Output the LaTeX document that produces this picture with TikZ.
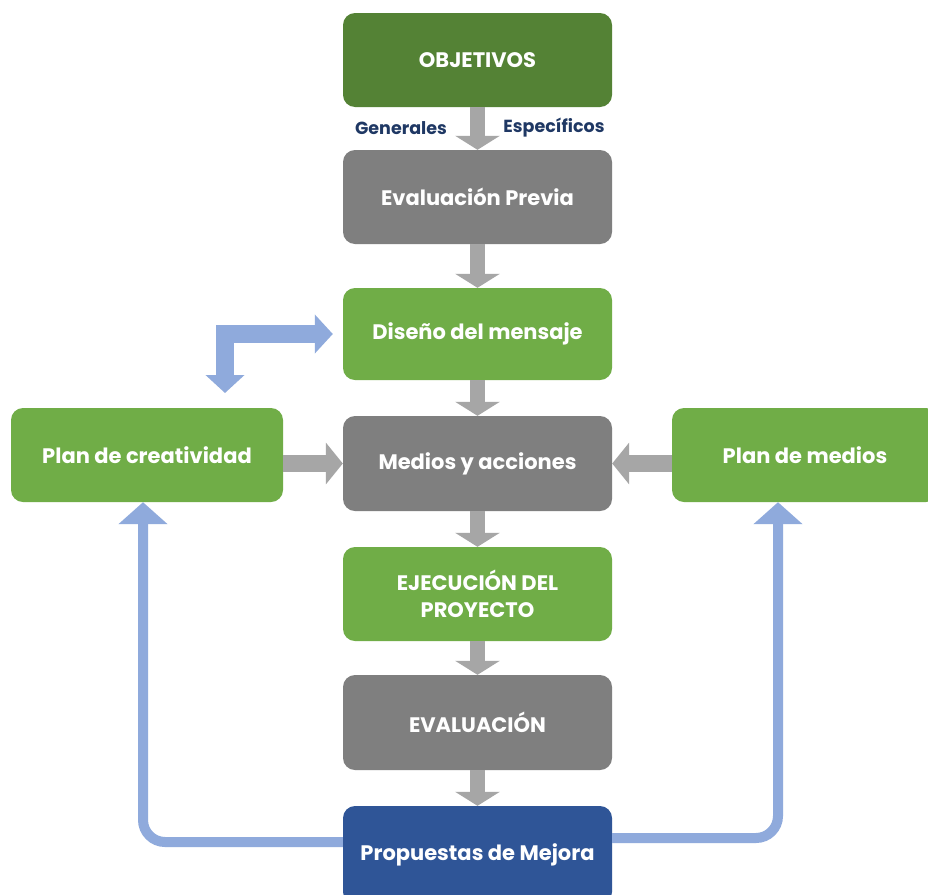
\documentclass[tikz,border=0pt]{standalone}
\usepackage{fontspec}
\setmainfont{Poppins}
\usetikzlibrary{arrows.meta}
\definecolor{dgreen}{HTML}{548235}
\definecolor{lgreen}{HTML}{70AD47}
\definecolor{boxgray}{HTML}{7F7F7F}
\definecolor{arrgray}{HTML}{A6A6A6}
\definecolor{boxblue}{HTML}{2F5597}
\definecolor{lblue}{HTML}{8FAADC}
\definecolor{navy}{HTML}{1F3864}
\begin{document}
\begin{tikzpicture}[x=1pt,y=-1pt,
  box/.style={rounded corners=12pt, inner sep=0pt, align=center, text=white,
    font=\bfseries\fontsize{21}{27}\selectfont},
  lbl/.style={inner sep=0pt, text=navy, font=\bfseries\fontsize{17.5}{19}\selectfont},
  garrow/.style={line width=15pt, draw=arrgray, -{Triangle[width=44pt,length=14pt]}},
  garrowh/.style={line width=17pt, draw=arrgray, -{Triangle[width=41pt,length=17pt]}},
  bbent/.style={line width=18pt, draw=lblue, {Triangle[width=38pt,length=18pt]}-{Triangle[width=38pt,length=18pt]}},
  bloop/.style={line width=10pt, draw=lblue, rounded corners=22pt, -{Triangle[width=48pt,length=22pt]}}
]
\useasboundingbox (0,0) rectangle (928,894);
\clip (0,0) rectangle (928,894);
\fill[white] (0,0) rectangle (928,894);

\node[box, fill=dgreen, minimum width=269pt, minimum height=94pt] (obj) at (477.5,60) {OBJETIVOS};
\node[box, fill=boxgray, minimum width=269pt, minimum height=94pt] (prev) at (477.5,197) {Evaluación Previa};
\node[box, fill=lgreen, minimum width=269pt, minimum height=92pt] (dis) at (477.5,334) {Diseño del mensaje};
\node[box, fill=boxgray, minimum width=269pt, minimum height=95pt] (med) at (477.5,463.5) {Medios y acciones};
\node[box, fill=lgreen, minimum width=269pt, minimum height=94pt] (eje) at (477.5,594) {EJECUCIÓN DEL\\PROYECTO};
\node[box, fill=boxgray, minimum width=269pt, minimum height=95pt] (eva) at (477.5,722.5) {EVALUACIÓN};
\node[box, fill=boxblue, minimum width=269pt, minimum height=98pt] (prop) at (477.5,855) {Propuestas de Mejora};
\node[box, fill=lgreen, minimum width=272pt, minimum height=94pt] (creat) at (147,455) {Plan de creatividad};
\node[box, fill=lgreen, minimum width=266pt, minimum height=94pt] (medios) at (805,455) {Plan de medios};

\node[lbl] (gen) at (401,128) {Generales};
\node[lbl] (esp) at (554,128) {Específicos};

\draw[garrow] (obj.south) -- (prev.north);
\draw[garrow] (prev.south) -- (dis.north);
\draw[garrow] (dis.south) -- (med.north);
\draw[garrow] (med.south) -- (eje.north);
\draw[garrow] (eje.south) -- (eva.north);
\draw[garrow] (eva.south) -- (prop.north);
\draw[garrowh] (creat.east |- med.west) -- (med.west);
\draw[garrowh] (medios.west |- med.east) -- (med.east);

\coordinate (bt) at (225,393);
\draw[bbent] (bt) |- ([xshift=-10pt]dis.west);

\draw[bloop] ([yshift=13pt]prop.west) -| ([xshift=-4pt]creat.south);
\draw[bloop] ([yshift=17pt]prop.east) -| ([xshift=-27pt]medios.south);
\end{tikzpicture}
\end{document}
